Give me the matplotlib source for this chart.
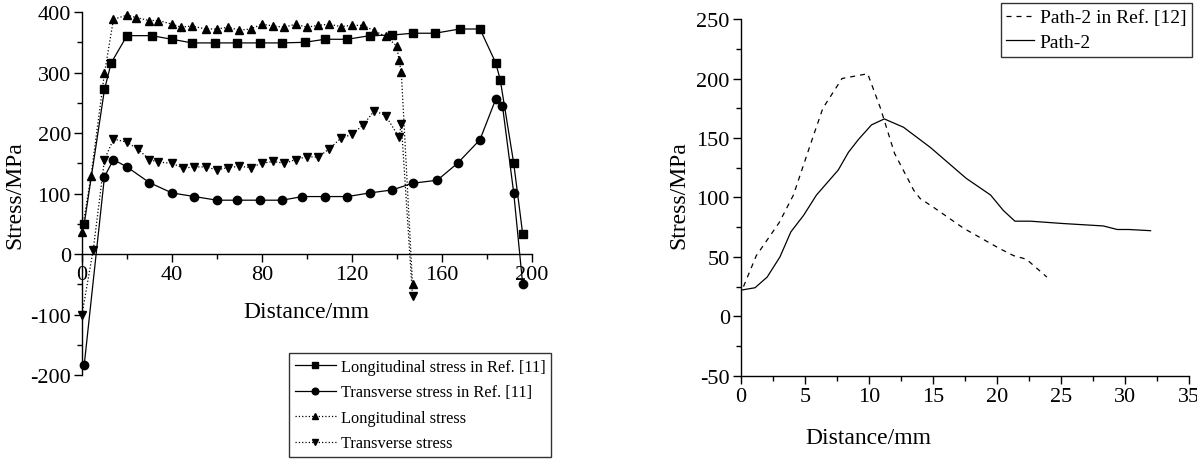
import matplotlib
matplotlib.use("Agg")
import matplotlib.pyplot as plt
from matplotlib.ticker import MultipleLocator

plt.rcParams['font.family'] = ['Liberation Serif', 'DejaVu Serif']
plt.rcParams['axes.unicode_minus'] = False

# left panel: stress along the weld line
long_ref_x = [1, 10, 13, 20, 31, 40, 49, 59, 69, 79, 89, 99, 108, 118, 128, 138, 147, 157, 168, 177, 184, 186, 192, 196]
long_ref_y = [50, 272, 316, 361, 361, 355, 349, 349, 349, 349, 349, 350, 355, 355, 361, 362, 365, 365, 372, 372, 316, 288, 150, 33]

trans_ref_x = [1, 10, 14, 20, 30, 40, 50, 60, 69, 79, 89, 98, 108, 118, 128, 138, 147, 158, 167, 177, 184, 187, 192, 196]
trans_ref_y = [-183, 128, 156, 144, 118, 101, 95, 89, 89, 89, 89, 95, 95, 95, 101, 106, 117, 122, 150, 189, 256, 245, 101, -50]

long_x = [0, 4, 10, 14, 20, 24, 30, 34, 40, 44, 49, 55, 60, 65, 70, 75, 80, 85, 90, 95,
          100, 105, 110, 115, 120, 125, 130, 135, 140, 141, 142, 147]
long_y = [37, 129, 299, 388, 395, 391, 386, 386, 380, 375, 377, 372, 372, 375, 370, 372, 380, 377, 375, 380,
          375, 378, 380, 376, 378, 378, 369, 360, 344, 320, 301, -50]

trans_x = [0, 5, 10, 14, 20, 25, 30, 34, 40, 45, 50, 55, 60, 65, 70, 75, 80, 85, 90, 95,
           100, 105, 110, 115, 120, 125, 130, 135, 141, 142, 147]
trans_y = [-100, 7, 156, 190, 185, 173, 156, 152, 150, 142, 144, 144, 139, 143, 145, 143, 150, 153, 150, 156,
           161, 160, 174, 191, 198, 213, 237, 229, 193, 215, -70]

# right panel: path-2
path_ref_x = [0.2, 1.2, 3.0, 4.1, 5.6, 6.4, 7.9, 9.9, 10.9, 12.0, 13.5, 14.0, 15.0, 17.4, 20.2, 21.3, 22.3, 23.9]
path_ref_y = [25, 51, 79, 102, 150, 175, 200, 204, 175, 137, 106, 99, 92, 74, 57, 51, 48, 33]

path_x = [0, 1.1, 2.05, 3.05, 3.9, 4.9, 5.9, 7.6, 8.4, 9.2, 10.2, 11.2, 12.7, 14.8, 17.6, 19.5,
          20.5, 21.4, 22.6, 25.2, 28.3, 29.4, 30.3, 32.0]
path_y = [22, 24, 33, 50, 71, 85, 102, 123, 138, 149, 161, 166, 159, 142, 116, 102,
          89, 80, 80, 78, 76, 73, 73, 72]

fig = plt.figure(figsize=(11.97, 4.6), dpi=100)
ax1 = fig.add_axes([0.0685, 0.1826, 0.3757, 0.789])
ax2 = fig.add_axes([0.619, 0.181, 0.3743, 0.7754])

lw = 0.9
ms = 6
ax1.plot(long_ref_x, long_ref_y, '-', color='k', lw=lw, marker='s', ms=ms, clip_on=False,
         label='Longitudinal stress in Ref. [11]')
ax1.plot(trans_ref_x, trans_ref_y, '-', color='k', lw=lw, marker='o', ms=ms, clip_on=False,
         label='Transverse stress in Ref. [11]')
ax1.plot(long_x, long_y, ':', color='k', lw=lw, marker='^', ms=ms, clip_on=False,
         label='Longitudinal stress')
ax1.plot(trans_x, trans_y, ':', color='k', lw=lw, marker='v', ms=ms, clip_on=False,
         label='Transverse stress')

ax1.set_xlim(0, 200)
ax1.set_ylim(-200, 400)
ax1.spines['top'].set_visible(False)
ax1.spines['right'].set_visible(False)
ax1.spines['bottom'].set_position(('data', 0))
ax1.xaxis.set_major_locator(MultipleLocator(40))
ax1.xaxis.set_minor_locator(MultipleLocator(20))
ax1.yaxis.set_major_locator(MultipleLocator(100))
ax1.yaxis.set_minor_locator(MultipleLocator(50))

ax2.plot(path_ref_x, path_ref_y, '--', color='k', lw=lw, dashes=(4, 4), label='Path-2 in Ref. [12]')
ax2.plot(path_x, path_y, '-', color='k', lw=lw, label='Path-2')
ax2.set_xlim(0, 35)
ax2.set_ylim(-50, 250)
ax2.spines['top'].set_visible(False)
ax2.spines['right'].set_visible(False)
ax2.xaxis.set_major_locator(MultipleLocator(5))
ax2.xaxis.set_minor_locator(MultipleLocator(2.5))
ax2.yaxis.set_major_locator(MultipleLocator(50))
ax2.yaxis.set_minor_locator(MultipleLocator(25))

for ax in (ax1, ax2):
    for s in ('left', 'bottom'):
        ax.spines[s].set_linewidth(1.0)
    ax.tick_params(which='major', direction='out', length=6, width=1.0, labelsize=16, pad=2)
    ax.tick_params(which='minor', direction='out', length=3.5, width=1.0)

fig.text(0.0125, 0.576, 'Stress/MPa', rotation=90, ha='center', va='center', fontsize=17)
fig.text(0.2556, 0.3217, 'Distance/mm', ha='center', va='center', fontsize=17)
fig.text(0.567, 0.576, 'Stress/MPa', rotation=90, ha='center', va='center', fontsize=17)
fig.text(0.7252, 0.047, 'Distance/mm', ha='center', va='center', fontsize=17)

leg1 = ax1.legend(loc='lower left', bbox_to_anchor=(0.2414, 0.0043), bbox_transform=fig.transFigure,
                  borderaxespad=0, fancybox=False, frameon=True, edgecolor='k', fontsize=11.8,
                  handlelength=2.5, markerscale=0.8, labelspacing=0.58, borderpad=0.35, handletextpad=0.3)
leg1.get_frame().set_linewidth(1.0)

leg2 = ax2.legend(loc='upper right', bbox_to_anchor=(1192 / 1197, 1 - 4 / 460), bbox_transform=fig.transFigure,
                  borderaxespad=0, fancybox=False, frameon=True, edgecolor='k', fontsize=14,
                  handlelength=1.4, labelspacing=0.35, borderpad=0.3, handletextpad=0.3)
leg2.get_frame().set_linewidth(1.0)

fig.savefig('out.png', dpi=100)
